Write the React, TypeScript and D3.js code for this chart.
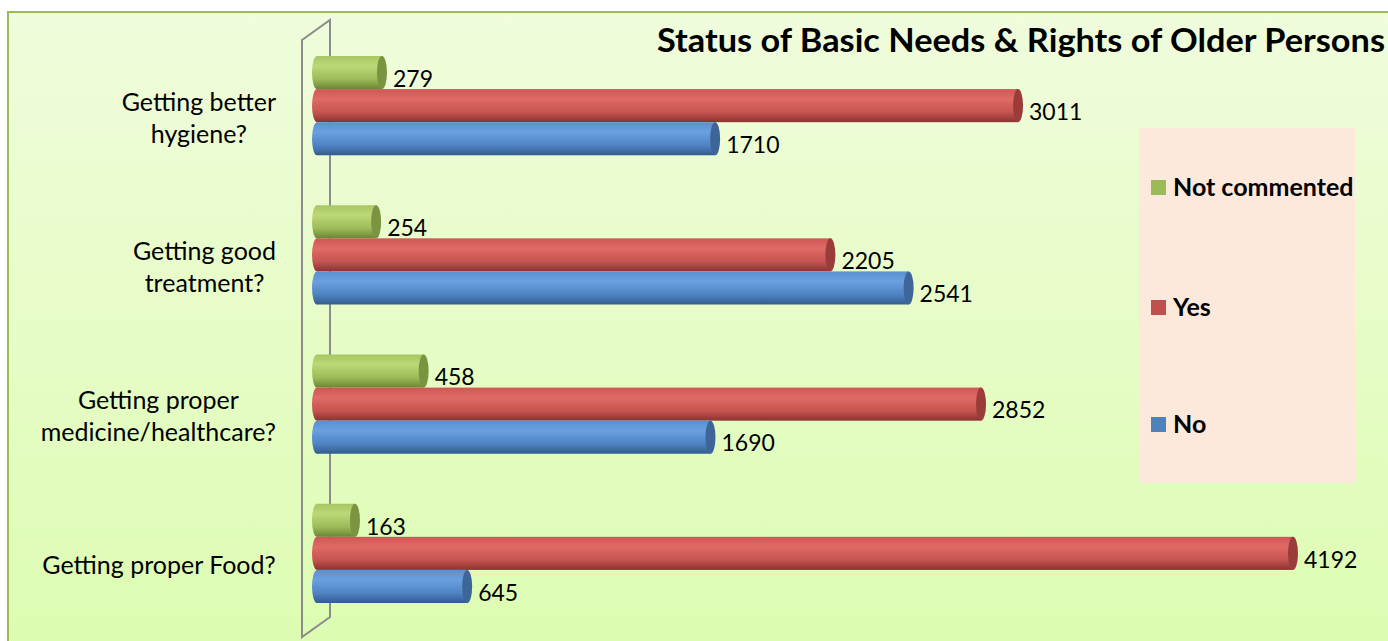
import React from 'react';
import * as d3 from 'd3';

// categories top -> bottom as drawn
const categories = [
  ['Getting better', 'hygiene?'],
  ['Getting good', 'treatment?'],
  ['Getting proper', 'medicine/healthcare?'],
  ['Getting proper Food?'],
];
const seriesNames = ['Not commented', 'Yes', 'No'];
const notCommented = [279, 254, 458, 163];
const yes = [3011, 2205, 2852, 4192];
const no = [1710, 2541, 1690, 645];

const seriesColors = [
  { key: 'g', base: '#9bbb59', stops: ['#a8c661', '#bcd878', '#9dbb58', '#6b8634'], cap: '#7a9440' },
  { key: 'r', base: '#c0504d', stops: ['#cf5754', '#e06a66', '#c65450', '#8a3330'], cap: '#9a3c39' },
  { key: 'b', base: '#4f81bd', stops: ['#5a8fd0', '#6aa0e0', '#4f83c4', '#335c8f'], cap: '#3d6598' },
];

const W = 1388;
const H = 641;
const font = 'Lato, "Open Sans", sans-serif';
const labelSize = 25;

let ctx: CanvasRenderingContext2D | null = null;
function textWidth(s: string, size: number) {
  if (!ctx) ctx = document.createElement('canvas').getContext('2d');
  if (!ctx) return s.length * size * 0.5;
  ctx.font = `${size}px Lato, "Open Sans", sans-serif`;
  return ctx.measureText(s).width;
}

export default function App() {
  const values = [notCommented, yes, no];
  const x = d3.scaleLinear([0, 4192], [317, 1293]);
  const y = d3
    .scaleBand<number>()
    .domain(d3.range(categories.length))
    .range([31, 628])
    .paddingInner(0.335)
    .paddingOuter(0.1675);
  const ys = d3.scaleBand<number>().domain([0, 1, 2]).range([0, y.bandwidth()]);
  const rx = 5;
  const bh = ys.bandwidth();
  const labelRight = 276;

  return (
    <svg width={W} height={H} style={{ position: 'absolute', left: 0, top: 0 }}>
      <defs>
        <linearGradient id="bg" x1="0" y1="0" x2="0" y2="1">
          <stop offset="0%" stopColor="#f0fcdc" />
          <stop offset="100%" stopColor="#dcfcb0" />
        </linearGradient>
        {seriesColors.map((c) => (
          <linearGradient key={c.key} id={'cyl-' + c.key} x1="0" y1="0" x2="0" y2="1">
            <stop offset="0%" stopColor={c.stops[0]} />
            <stop offset="30%" stopColor={c.stops[1]} />
            <stop offset="70%" stopColor={c.stops[2]} />
            <stop offset="100%" stopColor={c.stops[3]} />
          </linearGradient>
        ))}
      </defs>
      <rect x={0} y={0} width={W} height={H} fill="#fff" />
      <rect x={8} y={12} width={W + 20} height={H + 20} fill="url(#bg)" stroke="#9bbb59" strokeWidth={2} />

      {/* 3d wall */}
      <polygon points="302,40 330,20 330,617 302,637" fill="none" stroke="#8c8c8c" strokeWidth={2} />

      {/* title */}
      <text
        x={657}
        y={52}
        fontFamily={font}
        fontWeight="bold"
        fontSize={32}
        textLength={728}
        lengthAdjust="spacingAndGlyphs"
        fill="#000"
      >
        Status of Basic Needs &amp; Rights of Older Persons
      </text>

      {/* legend */}
      <rect x={1139} y={128} width={216} height={355} fill="#fde9dc" />
      {seriesNames.map((s, i) => {
        const cy = [187, 307, 424][i];
        return (
          <g key={s}>
            <rect x={1151} y={cy - 7} width={15} height={15} fill={seriesColors[i].base} />
            <text x={1173} y={cy} dy="0.36em" fontFamily={font} fontWeight="bold" fontSize={25} fill="#000">
              {s}
            </text>
          </g>
        );
      })}

      {categories.map((lines, ci) => {
        const g0 = y(ci)!;
        const mid = g0 + y.bandwidth() / 2 + 12;
        const blockW = d3.max(lines, (l) => textWidth(l, labelSize)) ?? 0;
        const cx = labelRight - blockW / 2;
        return (
          <g key={ci}>
            {lines.map((ln, li) => (
              <text
                key={li}
                x={cx}
                y={mid + (li - (lines.length - 1) / 2) * 32}
                dy="0.36em"
                textAnchor="middle"
                fontFamily={font}
                fontSize={labelSize}
                fill="#000"
              >
                {ln}
              </text>
            ))}
            {values.map((vals, si) => {
              const v = vals[ci];
              const top = g0 + ys(si)!;
              const cy = top + bh / 2;
              const c = seriesColors[si];
              return (
                <g key={si}>
                  <ellipse cx={x(0)} cy={cy} rx={rx} ry={bh / 2} fill={`url(#cyl-${c.key})`} />
                  <rect x={x(0)} y={top} width={x(v) - x(0)} height={bh} fill={`url(#cyl-${c.key})`} />
                  <ellipse cx={x(v)} cy={cy} rx={rx} ry={bh / 2} fill={c.cap} />
                  <text x={x(v) + rx + 6} y={cy + 6} dy="0.36em" fontFamily={font} fontSize={23} fill="#000">
                    {v}
                  </text>
                </g>
              );
            })}
          </g>
        );
      })}
    </svg>
  );
}
